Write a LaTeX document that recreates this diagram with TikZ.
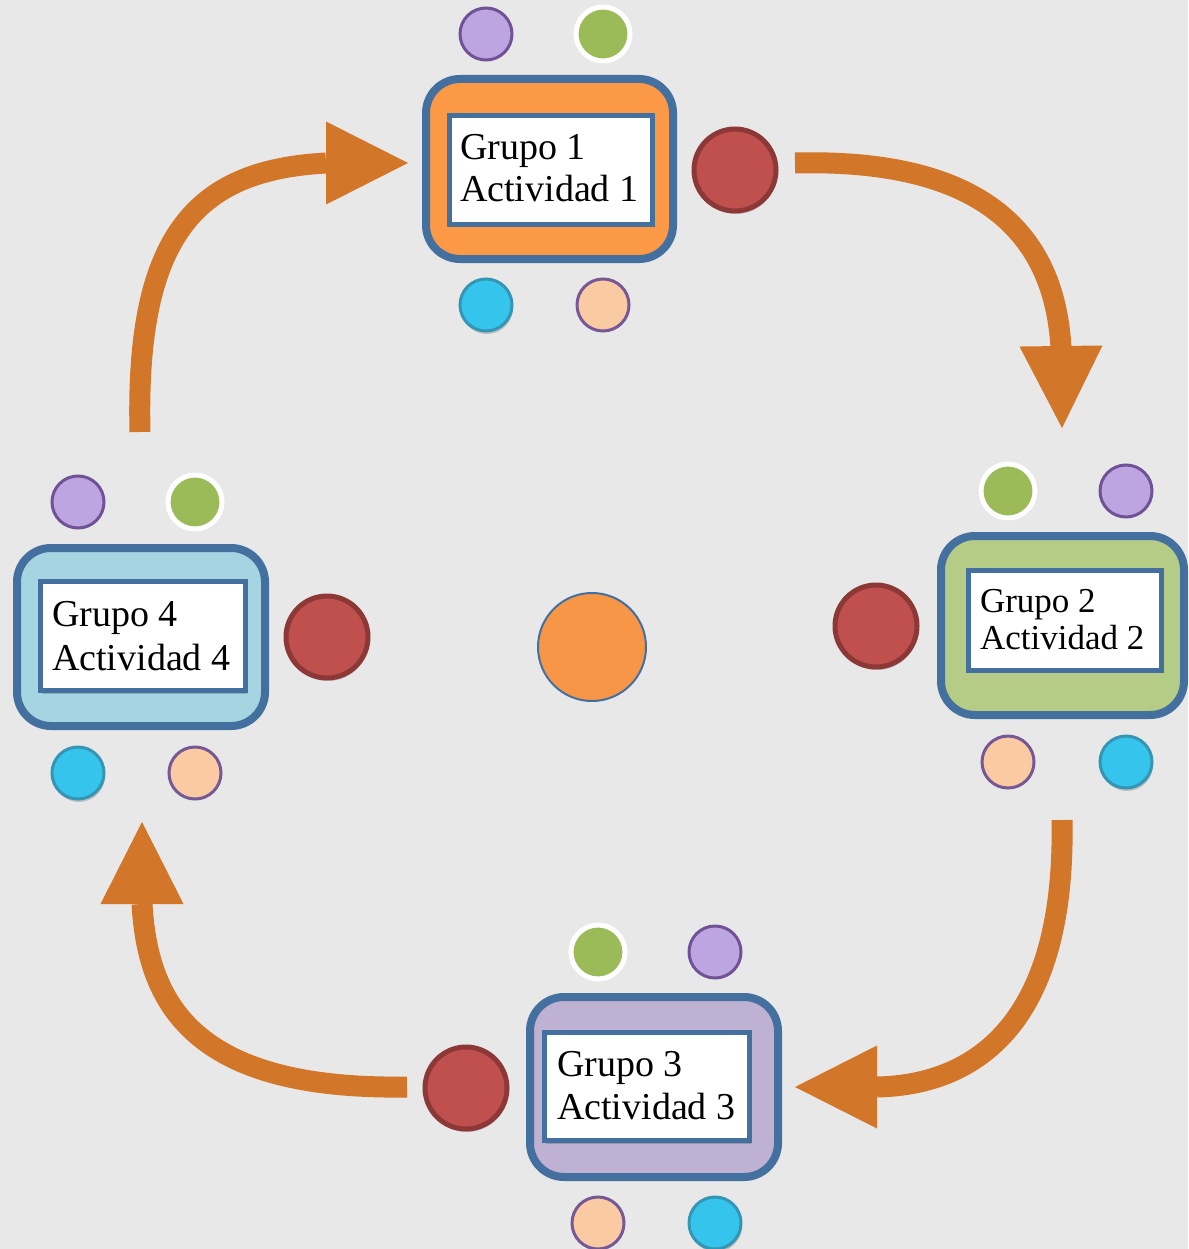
\documentclass[tikz,border=0pt]{standalone}
\usepackage{fontspec}
\setmainfont{Liberation Serif}
\usetikzlibrary{arrows.meta,shadows}
\definecolor{bg}{RGB}{232,232,232}
\definecolor{boxblue}{RGB}{68,112,160}
\definecolor{arrowc}{RGB}{210,118,41}
\definecolor{orangefill}{RGB}{252,153,70}
\definecolor{greenbox}{RGB}{180,204,133}
\definecolor{purplebox}{RGB}{191,177,210}
\definecolor{cyanbox}{RGB}{166,213,226}
\definecolor{redfill}{RGB}{192,80,77}
\definecolor{reddraw}{RGB}{140,56,54}
\definecolor{purpfill}{RGB}{189,165,226}
\definecolor{purpdraw}{RGB}{112,82,150}
\definecolor{greenfill}{RGB}{155,187,89}
\definecolor{cyanfill}{RGB}{53,196,236}
\definecolor{cyandraw}{RGB}{52,150,180}
\definecolor{peachfill}{RGB}{250,203,163}
\definecolor{peachdraw}{RGB}{118,88,150}
\definecolor{centerfill}{RGB}{247,150,70}
\begin{document}
\begin{tikzpicture}[x=1pt,y=-1pt,
  softshadow/.style={drop shadow={opacity=0.18, shadow xshift=1pt, shadow yshift=-3pt, fill=black}},
  outerbox/.style={draw=boxblue, line width=8pt, rounded corners=34pt, inner sep=0pt, outer sep=0pt, rectangle, softshadow},
  innerbox/.style={draw=boxblue, fill=white, line width=5pt, inner sep=0pt, outer sep=0pt, rectangle, softshadow},
  lbl/.style={anchor=base west, inner sep=0pt, outer sep=0pt, font=\fontsize{38}{42}\selectfont},
  lbls/.style={lbl, font=\fontsize{35}{37}\selectfont},
  dotp/.style={circle, inner sep=0pt, minimum size=52pt, line width=3pt, fill=purpfill, draw=purpdraw},
  dotg/.style={circle, inner sep=0pt, minimum size=54pt, line width=5pt, fill=greenfill, draw=white},
  dotc/.style={circle, inner sep=0pt, minimum size=52pt, line width=3pt, fill=cyanfill, draw=cyandraw, softshadow},
  doto/.style={circle, inner sep=0pt, minimum size=52pt, line width=3pt, fill=peachfill, draw=peachdraw},
  dotr/.style={circle, inner sep=0pt, minimum size=82pt, line width=5pt, fill=redfill, draw=reddraw, softshadow},
  flow/.style={line width=21pt, draw=arrowc, -{Triangle[length=82pt,width=83pt,line width=0pt]}}
]
\fill[bg] (0,0) rectangle (1188,1249);
\useasboundingbox (0,0) rectangle (1188,1249);

% Group 1
\node[outerbox, fill=orangefill, minimum width=247pt, minimum height=180pt] (g1) at (549.5,169) {};
\node[innerbox, minimum width=203pt, minimum height=109pt] (g1in) at (551,170) {};
\node[lbl] (g1a) at (460,160) {Grupo 1};
\node[lbl] (g1b) at (460,202) {Actividad 1};
\node[dotp] (g1p) at (486,34) {};
\node[dotg] (g1g) at (603,34) {};
\node[dotc] (g1c) at (486,305) {};
\node[doto] (g1o) at (603,305) {};
\node[dotr] (g1r) at (735,170) {};

% Group 2
\node[outerbox, fill=greenbox, minimum width=243pt, minimum height=179pt] (g2) at (1062.5,625.5) {};
\node[innerbox, minimum width=193pt, minimum height=100pt] (g2in) at (1064.5,620) {};
\node[lbls] (g2a) at (980,612) {Grupo 2};
\node[lbls] (g2b) at (980,649) {Actividad 2};
\node[dotg] (g2g) at (1008,491) {};
\node[dotp] (g2p) at (1126,491) {};
\node[doto] (g2o) at (1008,762) {};
\node[dotc] (g2c) at (1126,762) {};
\node[dotr] (g2r) at (876,626) {};

% Group 3
\node[outerbox, fill=purplebox, minimum width=248pt, minimum height=180pt] (g3) at (654,1087) {};
\node[innerbox, minimum width=205pt, minimum height=108pt] (g3in) at (647,1086.5) {};
\node[lbl] (g3a) at (557,1076) {Grupo 3};
\node[lbl] (g3b) at (557,1119) {Actividad 3};
\node[dotg] (g3g) at (598,952) {};
\node[dotp] (g3p) at (715,952) {};
\node[doto] (g3o) at (598,1223) {};
\node[dotc] (g3c) at (715,1223) {};
\node[dotr] (g3r) at (466,1088) {};

% Group 4
\node[outerbox, fill=cyanbox, minimum width=248pt, minimum height=178pt] (g4) at (141,637) {};
\node[innerbox, minimum width=205pt, minimum height=109pt] (g4in) at (143,636) {};
\node[lbl] (g4a) at (52,626) {Grupo 4};
\node[lbl] (g4b) at (52,670) {Actividad 4};
\node[dotp] (g4p) at (78,502) {};
\node[dotg] (g4g) at (195,502) {};
\node[dotc] (g4c) at (78,773) {};
\node[doto] (g4o) at (195,773) {};
\node[dotr] (g4r) at (327,637) {};

% Center
\node[circle, inner sep=0pt, minimum size=108pt, line width=2pt, fill=centerfill, draw=boxblue] (ctr) at (592,647) {};

% Arrows
\coordinate (a1s) at (795,163);
\coordinate (a1e) at (1062,428);
\coordinate (a2s) at (1062,820);
\coordinate (a2e) at (795,1087);
\coordinate (a3s) at (407,1087);
\coordinate (a3e) at (142,822);
\coordinate (a4s) at (140,432);
\coordinate (a4e) at (408,163);
\draw[flow] (a1s) .. controls (990,158) and (1055,240) .. (1061,348) -- (a1e);
\draw[flow] (a2s) .. controls (1066,1030) and (970,1085) .. (877,1087) -- (a2e);
\draw[flow] (a3s) .. controls (200,1090) and (148,1010) .. (142,904) -- (a3e);
\draw[flow] (a4s) .. controls (135,230) and (200,170) .. (326,163) -- (a4e);
\end{tikzpicture}
\end{document}
